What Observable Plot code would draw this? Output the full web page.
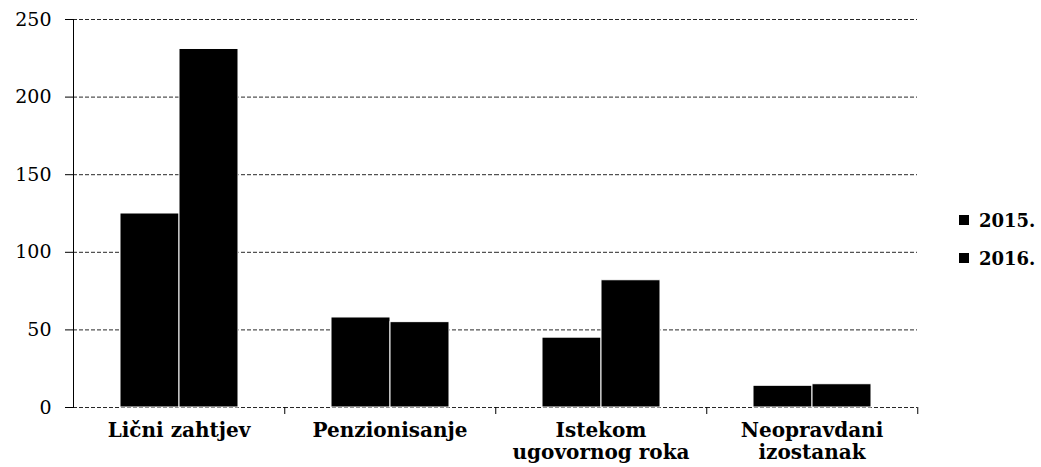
<!DOCTYPE html>
<html>
<head>
<meta charset="utf-8">
<script src="https://cdn.jsdelivr.net/npm/d3@7"></script>
<script src="https://cdn.jsdelivr.net/npm/@observablehq/plot@0.6"></script>
<style>
  body { margin: 0; background: #fff; }
  #wrap { position: relative; width: 1041px; height: 467px; }
  #legend { position: absolute; left: 959px; top: 209px; font-family: "DejaVu Serif", serif; font-weight: bold; font-size: 18px; color: #000; }
  .item { display: flex; align-items: center; height: 22px; margin-bottom: 16px; }
  .sw { width: 10px; height: 10px; background: #000; margin-right: 10px; }
</style>
</head>
<body>
<div id="wrap"><div id="legend"></div></div>
<script>
const categories = ["Lični zahtjev", "Penzionisanje", "Istekom ugovornog roka", "Neopravdani izostanak"];
const categoryLabels = ["Lični zahtjev", "Penzionisanje", "Istekom\nugovornog roka", "Neopravdani\nizostanak"];
const years = ["2015.", "2016."];
const values2015 = [125, 58, 45, 14];
const values2016 = [231, 55, 82, 15];
const yTicks = [0, 50, 100, 150, 200, 250];

const data = [];
categories.forEach((c, i) => {
  data.push({category: c, year: years[0], value: values2015[i]});
  data.push({category: c, year: years[1], value: values2016[i]});
});
const labelOf = new Map(categories.map((c, i) => [c, categoryLabels[i]]));

const W = 1041, H = 467, mL = 72, mR = 123, mT = 19, mB = 60;
const halfFacet = (W - mL - mR) / categories.length / 2;

const chart = Plot.plot({
  width: W, height: H,
  marginLeft: mL, marginRight: mR, marginTop: mT, marginBottom: mB,
  style: {background: "#fff", color: "#000"},
  fx: {domain: categories, padding: 0, label: null},
  x: {domain: years, paddingInner: 0, paddingOuter: 0.76, axis: null},
  y: {domain: [0, 250], label: null},
  marks: [
    Plot.gridY(yTicks, {stroke: "#111", strokeOpacity: 0.9, strokeWidth: 1, strokeDasharray: "4,2"}),
    Plot.barY(data, {fx: "category", x: "year", y: "value", fill: "#000", stroke: "#fff", strokeWidth: 1}),
    Plot.frame({anchor: "left", facetAnchor: "left", stroke: "#000"}),
    Plot.axisY(yTicks, {tickSize: 8, tickPadding: 14, label: null, fontFamily: "DejaVu Serif", fontSize: 19, stroke: "#000"}),
    Plot.axisFx({anchor: "bottom", tickSize: 0, tickPadding: 14, label: null, fontFamily: "DejaVu Serif", fontWeight: "bold", fontSize: 20, lineHeight: 1.1, tickFormat: c => labelOf.get(c)}),
    Plot.axisFx({anchor: "bottom", tickSize: 7, label: null, fill: "none", dx: halfFacet, stroke: "#000"})
  ]
});
document.getElementById("wrap").prepend(chart);

const legend = document.getElementById("legend");
years.forEach(y => {
  const it = document.createElement("div");
  it.className = "item";
  it.innerHTML = `<span class="sw"></span><span>${y}</span>`;
  legend.appendChild(it);
});
</script>
</body>
</html>
